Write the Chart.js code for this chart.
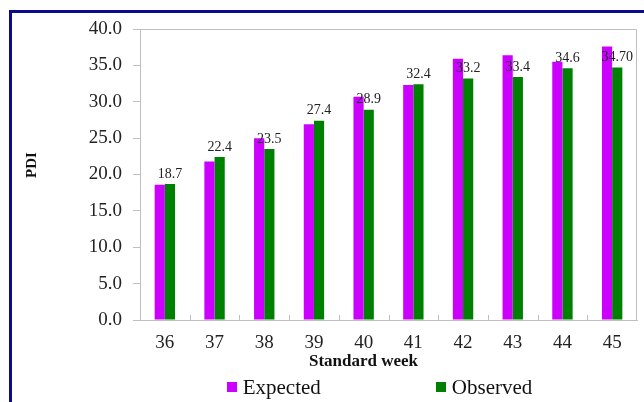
<!DOCTYPE html>
<html>
<head>
<meta charset="utf-8">
<title>PDI by standard week</title>
<script src="https://cdn.jsdelivr.net/npm/chart.js@4/dist/chart.umd.min.js"></script>
<style>
  html, body { margin: 0; padding: 0; background: #ffffff; overflow: hidden; }
  #frame {
    position: absolute; left: 9px; top: 10px; width: 700px; height: 500px;
    border-left: 3px solid #0B0B8E; border-top: 3px solid #0B0B8E;
  }
  #chart { position: absolute; left: 0; top: 0; }
</style>
</head>
<body>
<div id="frame"></div>
<canvas id="chart" width="644" height="402"></canvas>
<script>
// Standard weeks and PDI values
const weeks = ['36', '37', '38', '39', '40', '41', '42', '43', '44', '45'];
const expected = [18.6, 21.8, 25.0, 26.9, 30.7, 32.3, 35.9, 36.4, 35.5, 37.6];
const observed = [18.7, 22.4, 23.5, 27.4, 28.9, 32.4, 33.2, 33.4, 34.6, 34.70];
const observedText = ['18.7', '22.4', '23.5', '27.4', '28.9', '32.4', '33.2', '33.4', '34.6', '34.70'];
const yTickLabels = ['0.0', '5.0', '10.0', '15.0', '20.0', '25.0', '30.0', '35.0', '40.0'];
const seriesNames = ['Expected', 'Observed'];
const seriesColors = ['#CC00FF', '#008000'];

const SERIF = '"Liberation Serif", "Times New Roman", serif';
const AXIS_GREY = '#BFBFBF';

// Plot box, inward category ticks, value labels, axis titles and legend
const decorations = {
  id: 'decorations',
  afterDatasetsDraw(chart) {
    const ctx = chart.ctx;
    const meta = chart.getDatasetMeta(1);
    ctx.save();
    ctx.font = '14px ' + SERIF;
    ctx.fillStyle = '#222';
    ctx.textAlign = 'center';
    ctx.textBaseline = 'bottom';
    meta.data.forEach((bar, i) => {
      ctx.fillText(observedText[i], bar.x, bar.y - 3);
    });
    ctx.restore();
  },
  afterDraw(chart) {
    const ctx = chart.ctx;
    const area = chart.chartArea;
    const x = chart.scales.x;
    ctx.save();
    // top and right edges of the plot box
    ctx.strokeStyle = AXIS_GREY;
    ctx.lineWidth = 1;
    ctx.beginPath();
    ctx.moveTo(area.left, area.top + 0.5);
    ctx.lineTo(area.right - 0.5, area.top + 0.5);
    ctx.lineTo(area.right - 0.5, area.bottom);
    ctx.stroke();
    // short inward ticks between categories
    ctx.beginPath();
    for (let i = 1; i < weeks.length; i++) {
      const bx = Math.round((x.getPixelForValue(i - 1) + x.getPixelForValue(i)) / 2) + 0.5;
      ctx.moveTo(bx, area.bottom);
      ctx.lineTo(bx, area.bottom - 5);
    }
    ctx.stroke();

    // axis titles
    ctx.fillStyle = '#111';
    ctx.textAlign = 'center';
    ctx.textBaseline = 'middle';
    ctx.font = 'bold 17px ' + SERIF;
    ctx.fillText('Standard week', (area.left + area.right) / 2 - 25, 362);
    ctx.save();
    ctx.translate(32, 165);
    ctx.rotate(-Math.PI / 2);
    ctx.font = 'bold 15px ' + SERIF;
    ctx.fillText('PDI', 0, 0);
    ctx.restore();

    // legend
    ctx.font = '21px ' + SERIF;
    ctx.textAlign = 'left';
    const box = 10, gap = 6, spacing = 115;
    const widths = chart.data.datasets.map(d => ctx.measureText(d.label).width);
    const total = widths.reduce((s, w) => s + box + gap + w, 0) + spacing * (widths.length - 1);
    let lx = (area.left + area.right) / 2 - 9 - total / 2;
    const ly = 387;
    chart.data.datasets.forEach((d, i) => {
      ctx.fillStyle = d.backgroundColor;
      ctx.fillRect(Math.round(lx), ly - 5, box, box);
      ctx.fillStyle = '#111';
      ctx.fillText(d.label, lx + box + gap, ly + 1);
      lx += box + gap + widths[i] + spacing;
    });
    ctx.restore();
  }
};

new Chart(document.getElementById('chart'), {
  type: 'bar',
  data: {
    labels: weeks,
    datasets: [
      { label: seriesNames[0], data: expected, backgroundColor: seriesColors[0] },
      { label: seriesNames[1], data: observed, backgroundColor: seriesColors[1] }
    ]
  },
  options: {
    responsive: false,
    animation: false,
    devicePixelRatio: 1,
    layout: { padding: { left: 12, top: 29, right: 7, bottom: 32 } },
    datasets: { bar: { categoryPercentage: 0.41, barPercentage: 1.0 } },
    plugins: {
      legend: { display: false },
      tooltip: { enabled: false }
    },
    scales: {
      x: {
        afterFit(scale) { scale.height = 50; },
        grid: { display: false, drawTicks: false },
        border: { display: true, color: AXIS_GREY, width: 1 },
        ticks: { color: '#222', font: { family: SERIF, size: 19 }, padding: 12, maxRotation: 0 }
      },
      y: {
        min: 0,
        max: 40,
        afterFit(scale) { scale.width = 128; },
        grid: { drawOnChartArea: false, drawTicks: true, tickLength: 7, color: AXIS_GREY },
        border: { display: true, color: AXIS_GREY, width: 1 },
        ticks: {
          stepSize: 5,
          color: '#222',
          padding: 11,
          font: { family: SERIF, size: 19 },
          callback: (v, i) => yTickLabels[i]
        }
      }
    }
  },
  plugins: [decorations]
});
</script>
</body>
</html>
